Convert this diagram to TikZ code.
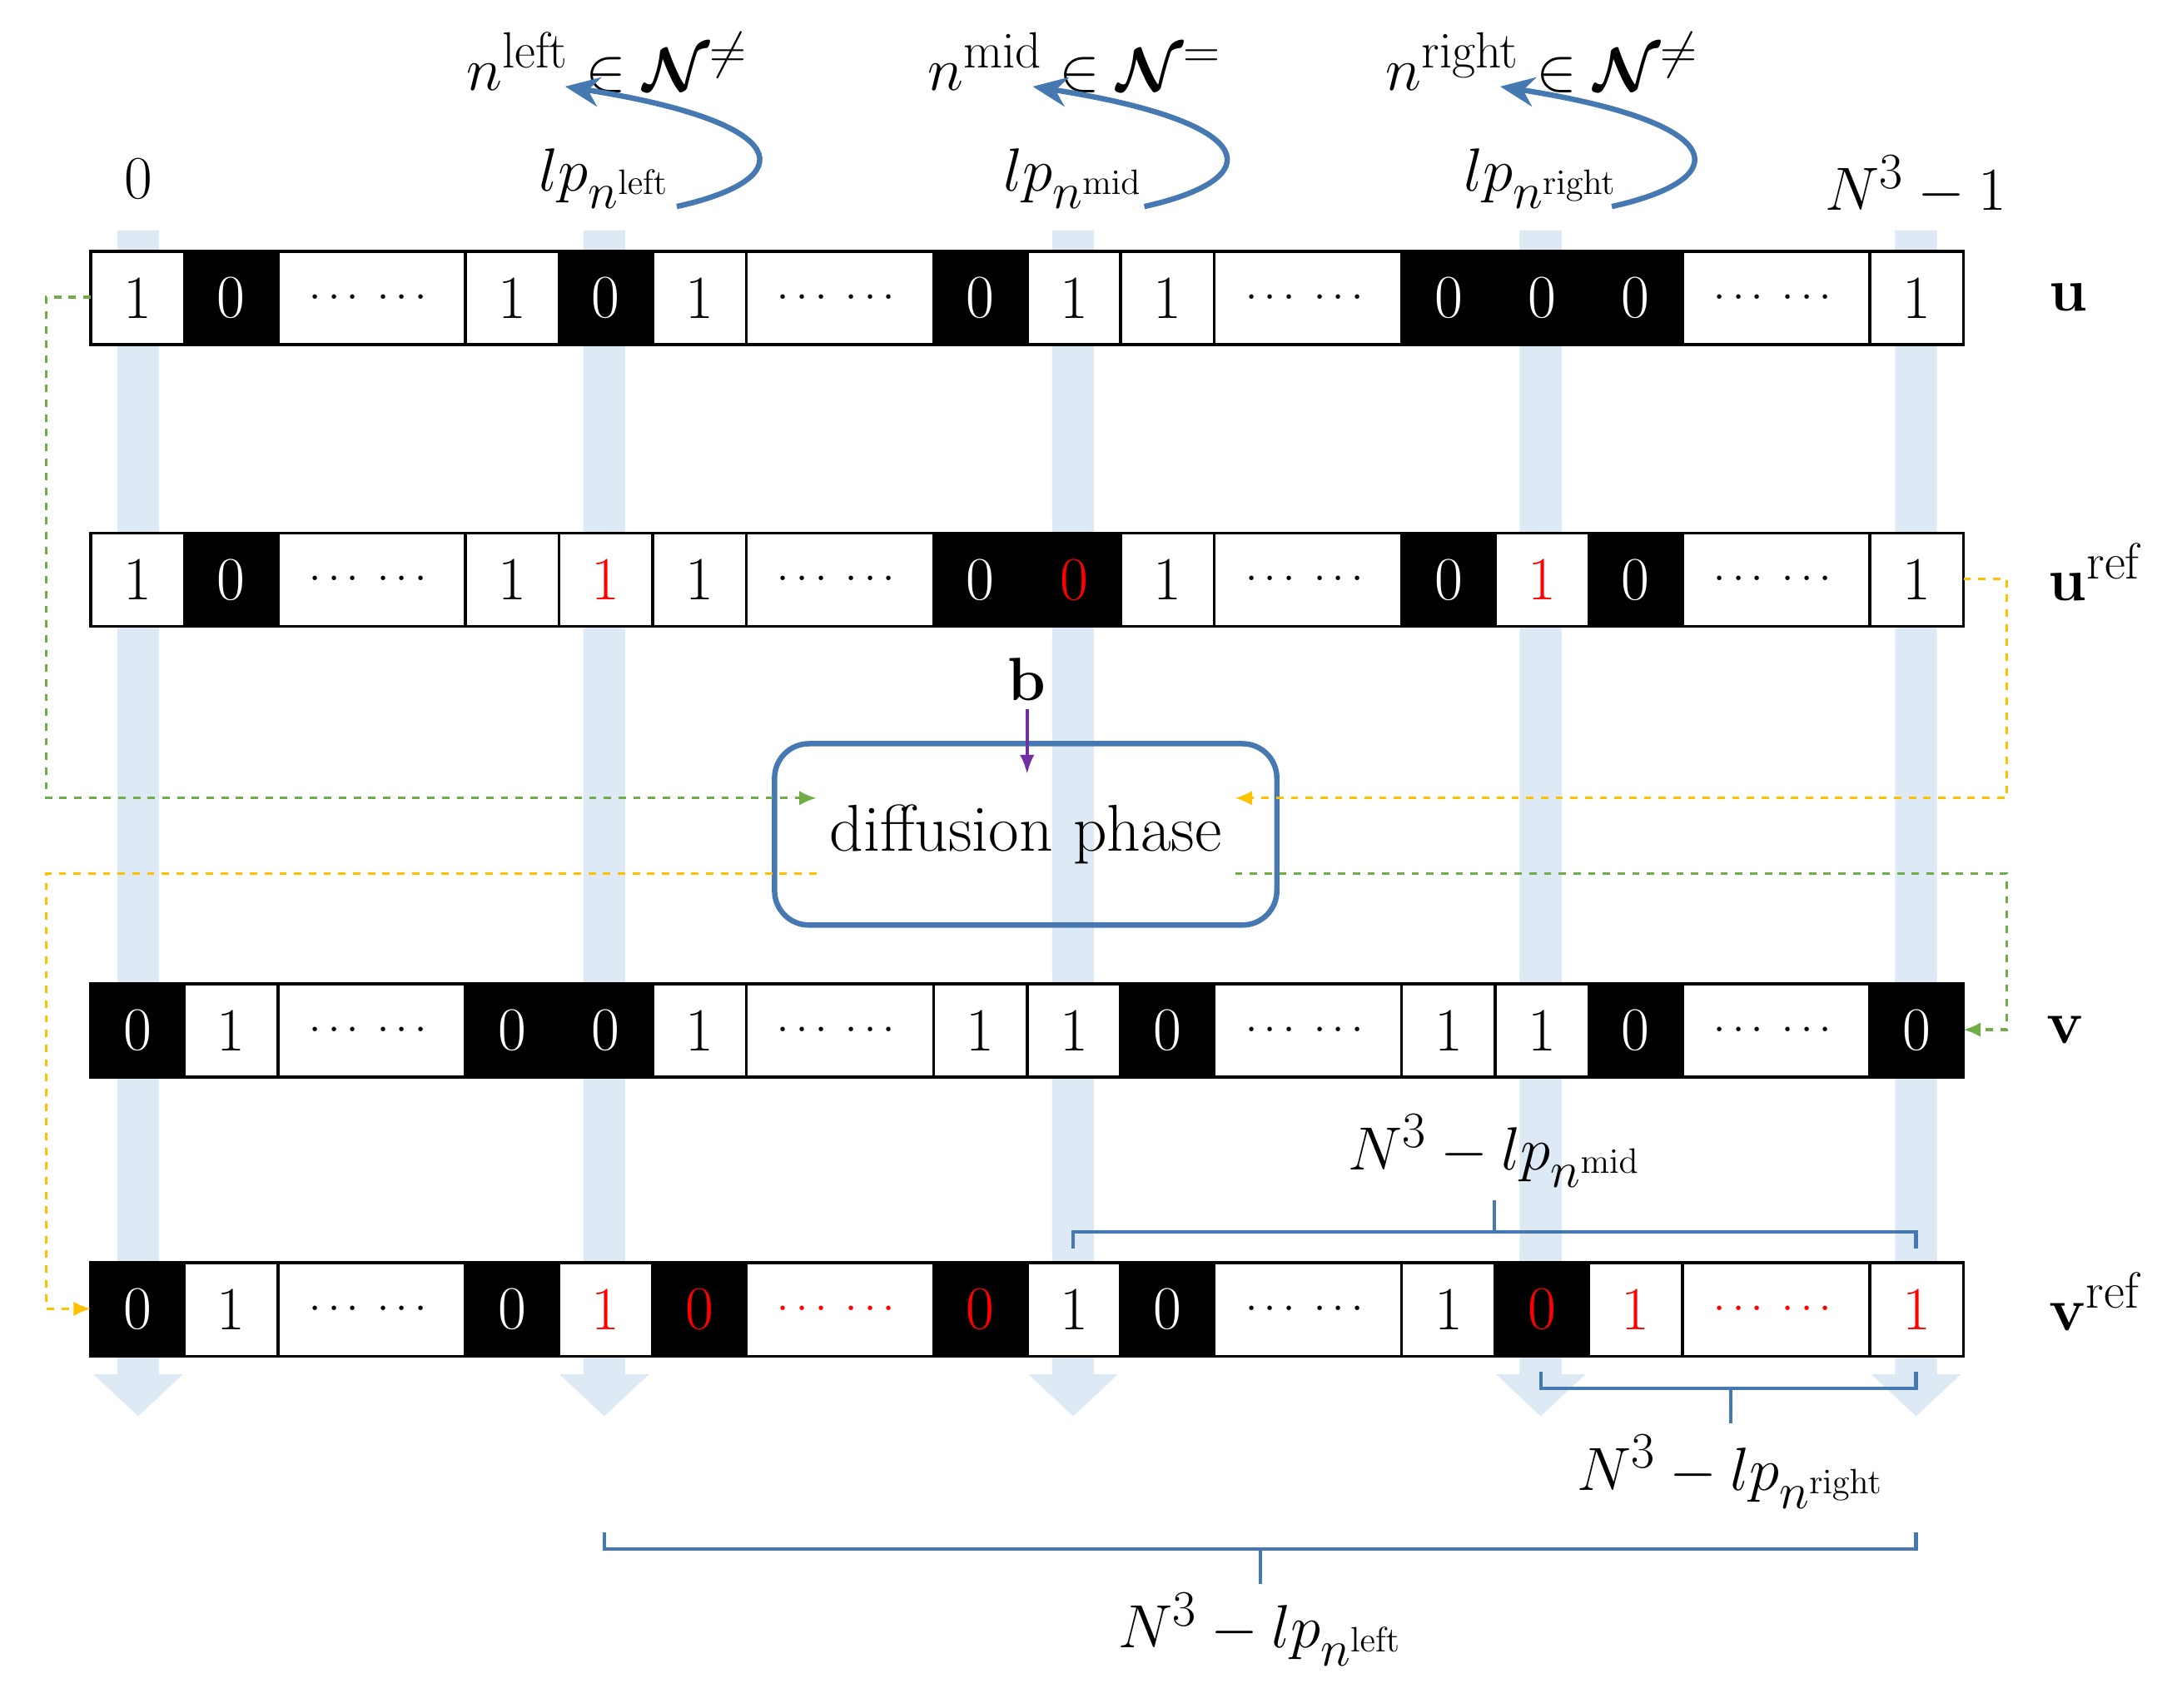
\documentclass[tikz,border=0pt]{standalone}
\usepackage{amsmath,amssymb,bm}
\usetikzlibrary{arrows.meta}
\definecolor{lb}{RGB}{222,233,246}
\definecolor{bl}{RGB}{70,120,178}
\definecolor{gr}{RGB}{112,173,71}
\definecolor{og}{RGB}{255,192,0}
\definecolor{pu}{RGB}{112,48,160}
\tikzset{
 cellw/.style={draw=black,line width=1.2pt,fill=white},
 cellb/.style={draw=black,line width=1.2pt,fill=black},
 num/.style={font=\fontsize{25}{30}\selectfont},
 lab/.style={font=\fontsize{30}{36}\selectfont},
 dsh/.style={dashed,line width=1.1pt,-{Latex[length=7pt,width=6pt]}},
 brk/.style={bl,line width=1.4pt},
 curv/.style={bl,line width=2.2pt,-{Stealth[length=14pt,width=12pt]}}
}
\newcommand{\mkrow}[3]{%
 \foreach \s/\w/\t/\st [count=\i] in {#3}{%
  \pgfmathsetmacro{\xa}{65+67.1*\s}\pgfmathsetmacro{\xb}{65+67.1*(\s+\w)}%
  \pgfmathsetmacro{\xc}{65+67.1*(\s+\w/2)}%
  \ifnum\st<2 \draw[cellw] (\xa,#1) rectangle (\xb,#1+67);\else \draw[cellb] (\xa,#1) rectangle (\xb,#1+67);\fi
  \ifcase\st
   \node[num,text=black] (#2\i) at (\xc,#1+33.5) {\t};\or
   \node[num,text=red] (#2\i) at (\xc,#1+33.5) {\t};\or
   \node[num,text=white] (#2\i) at (\xc,#1+33.5) {\t};\or
   \node[num,text=red] (#2\i) at (\xc,#1+33.5) {\t};\fi
 }}
\newcommand{\dd}{{\fontsize{18}{20}\selectfont$\cdots\;\cdots$}}
\begin{document}
\begin{tikzpicture}[x=0.02cm,y=-0.02cm]
\useasboundingbox (0,0) rectangle (1560,1224);
\foreach \x in {99,433,769,1104,1373}{
 \fill[lb] (\x-15,165) -- (\x+15,165) -- (\x+15,985) -- (\x+32,985) -- (\x,1015) -- (\x-32,985) -- (\x-15,985) -- cycle;}
\mkrow{180}{u}{0/1/1/0,1/1/0/2,2/2/\dd/0,4/1/1/0,5/1/0/2,6/1/1/0,7/2/\dd/0,9/1/0/2,10/1/1/0,11/1/1/0,12/2/\dd/0,14/1/0/2,15/1/0/2,16/1/0/2,17/2/\dd/0,19/1/1/0}
\mkrow{382}{r}{0/1/1/0,1/1/0/2,2/2/\dd/0,4/1/1/0,5/1/1/1,6/1/1/0,7/2/\dd/0,9/1/0/2,10/1/0/3,11/1/1/0,12/2/\dd/0,14/1/0/2,15/1/1/1,16/1/0/2,17/2/\dd/0,19/1/1/0}
\mkrow{705}{v}{0/1/0/2,1/1/1/0,2/2/\dd/0,4/1/0/2,5/1/0/2,6/1/1/0,7/2/\dd/0,9/1/1/0,10/1/1/0,11/1/0/2,12/2/\dd/0,14/1/1/0,15/1/1/0,16/1/0/2,17/2/\dd/0,19/1/0/2}
\mkrow{905}{w}{0/1/0/2,1/1/1/0,2/2/\dd/0,4/1/0/2,5/1/1/1,6/1/0/3,7/2/\dd/1,9/1/0/3,10/1/1/0,11/1/0/2,12/2/\dd/0,14/1/1/0,15/1/0/3,16/1/1/1,17/2/\dd/1,19/1/1/1}
\node[lab] (lu) at (1482,213) {$\mathbf{u}$};
\node[lab] (lr) at (1502,410) {$\mathbf{u}^{\mathrm{ref}}$};
\node[lab] (lv) at (1480,738) {$\mathbf{v}$};
\node[lab] (lw) at (1502,933) {$\mathbf{v}^{\mathrm{ref}}$};
\node[lab] (z) at (99,128) {$0$};
\node[lab] (nm1) at (1373,133) {$N^3-1$};
\node[lab] (lp1) at (433,128) {$lp_{n^{\mathrm{left}}}$};
\node[lab] (lp2) at (769,128) {$lp_{n^{\mathrm{mid}}}$};
\node[lab] (lp3) at (1104,128) {$lp_{n^{\mathrm{right}}}$};
\node[lab] (n1) at (435,45) {$n^{\mathrm{left}}\in\bm{\mathcal{N}}^{\neq}$};
\node[lab] (n2) at (770,45) {$n^{\mathrm{mid}}\in\bm{\mathcal{N}}^{=}$};
\node[lab] (n3) at (1105,45) {$n^{\mathrm{right}}\in\bm{\mathcal{N}}^{\neq}$};
\foreach \x in {0,335,670}{
 \coordinate (s\x) at (485+\x,148);\coordinate (e\x) at (405+\x,62);
 \draw[curv] (s\x) .. controls (575+\x,128) and (570+\x,88) .. (e\x);}
\node[draw=bl,line width=2.2pt,rounded corners=14pt,minimum width=7.2cm,minimum height=2.6cm,font=\fontsize{27}{32}\selectfont] (d) at (735,598) {diffusion phase};
\node[lab] (b) at (736,487) {$\mathbf{b}$};
\draw[pu,line width=1.5pt,-{Latex[length=8pt]}] (b.south) -- (736,555);
\coordinate (g1) at (65,213); \coordinate (o1) at (1407,415);
\draw[dsh,gr] (g1) -- (33,213) -- (33,572) -- (585,572);
\draw[dsh,og] (o1) -- (1438,415) -- (1438,572) -- (885,572);
\draw[dsh,og] (585,626) -- (33,626) -- (33,938) -- (65,938);
\draw[dsh,gr] (885,626) -- (1438,626) -- (1438,738) -- (1407,738);
\draw[brk] (769,895) -- (769,883) -- (1373,883) -- (1373,895) (1071,883) -- (1071,860);
\node[lab] (t1) at (1071,825) {$N^3-lp_{n^{\mathrm{mid}}}$};
\draw[brk] (1104,983) -- (1104,995) -- (1373,995) -- (1373,983) (1240,995) -- (1240,1020);
\node[lab] (t2) at (1240,1055) {$N^3-lp_{n^{\mathrm{right}}}$};
\draw[brk] (433,1098) -- (433,1110) -- (1373,1110) -- (1373,1098) (903,1110) -- (903,1135);
\node[lab] (t3) at (903,1168) {$N^3-lp_{n^{\mathrm{left}}}$};
\end{tikzpicture}
\end{document}
